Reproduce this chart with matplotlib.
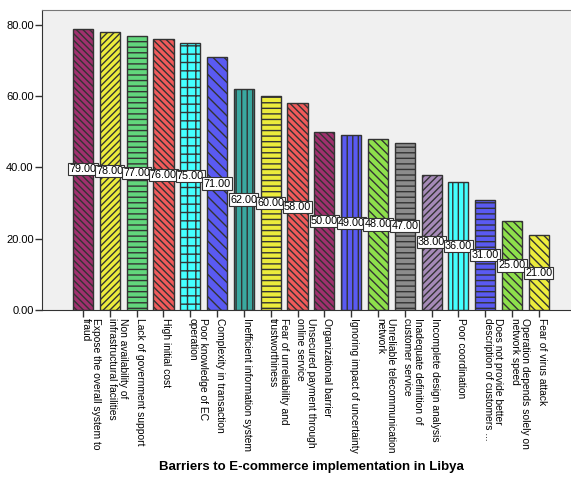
import matplotlib
matplotlib.use('Agg')
import matplotlib.pyplot as plt

# data
barriers = [
    'Expose the overall system to\nfraud',
    'Non availability of\ninfrastructural facilities',
    'Lack of government support',
    'High initial cost',
    'Poor knowledge of EC\noperation',
    'Complexity in transaction',
    'Inefficient information system',
    'Fear of unreliability and\ntrustworthiness',
    'Unsecured payment through\nonline service',
    'Organizational barrier',
    'Ignoring impact of uncertainty',
    'Unreliable telecommunication\nnetwork',
    'Inadequate definition of\ncustomer service',
    'Incomplete design analysis',
    'Poor coordination',
    'Does not provide better\ndescription of customers ...',
    'Operation depends solely on\nnetwork speed',
    'Fear of virus attack',
]
values = [79, 78, 77, 76, 75, 71, 62, 60, 58, 50, 49, 48, 47, 38, 36, 31, 25, 21]
yticks = [0, 20, 40, 60, 80]

# style per bar
colors = ['#a0306e', '#ecec3c', '#62d67c', '#f05a5a', '#44ffff', '#5a5af2',
          '#3aa8a0', '#ecec3c', '#f05a5a', '#a0306e', '#5a5af2', '#8ee04c',
          '#8c8c8c', '#a68ab8', '#44ffff', '#5a5af2', '#8ee04c', '#ecec3c']
hatches = ['\\\\\\\\\\', '/////', '---', '\\\\\\\\\\', '++', '\\\\\\',
           '|||', '---', '\\\\\\\\\\', '\\\\\\\\\\', '|||', '\\\\\\\\',
           '---', '/////', '|||', '---', '\\\\\\\\', '\\\\\\\\']

plt.rcParams['font.family'] = ['Liberation Sans', 'DejaVu Sans']
plt.rcParams['hatch.linewidth'] = 1.0

fig = plt.figure(figsize=(5.71, 4.79), dpi=100)
ax = fig.add_axes([42/571, 169/479, 1 - 42/571, 300/479])
ax.set_facecolor('#f0f0f0')

x = list(range(len(values)))
bars = ax.bar(x, values, width=0.75, color=colors, edgecolor='#333333',
              linewidth=1.0, zorder=2)
for b, h in zip(bars, hatches):
    b.set_hatch(h)

for xi, v in zip(x, values):
    ax.text(xi, v / 2, '%.2f' % v, ha='center', va='center', fontsize=7.8,
            zorder=3,
            bbox=dict(boxstyle='square,pad=0.1', fc='white', ec='#333333', lw=0.8))

ax.set_xlim(-1.53, 18.2)
ax.set_ylim(0, 84.2)
ax.set_yticks(yticks)
ax.set_yticklabels(['%.2f' % t for t in yticks], fontsize=8)
ax.set_xticks(x)
ax.set_xticklabels(barriers, rotation=-90, rotation_mode='anchor',
                   ha='left', va='baseline', fontsize=7.4, linespacing=1.05)
ax.tick_params(axis='x', length=5, width=1, color='#333333', pad=1)
ax.tick_params(axis='y', length=5, width=1, color='#333333', pad=1)

ax.spines['right'].set_visible(False)
ax.spines['top'].set_color('#777777')
ax.spines['left'].set_color('#333333')
ax.spines['bottom'].set_color('#333333')

fig.text(0.545, 1 - 467/479, 'Barriers to E-commerce implementation in Libya',
         ha='center', va='center', fontsize=9.5, fontweight='bold')

fig.savefig('out.png', dpi=100)
